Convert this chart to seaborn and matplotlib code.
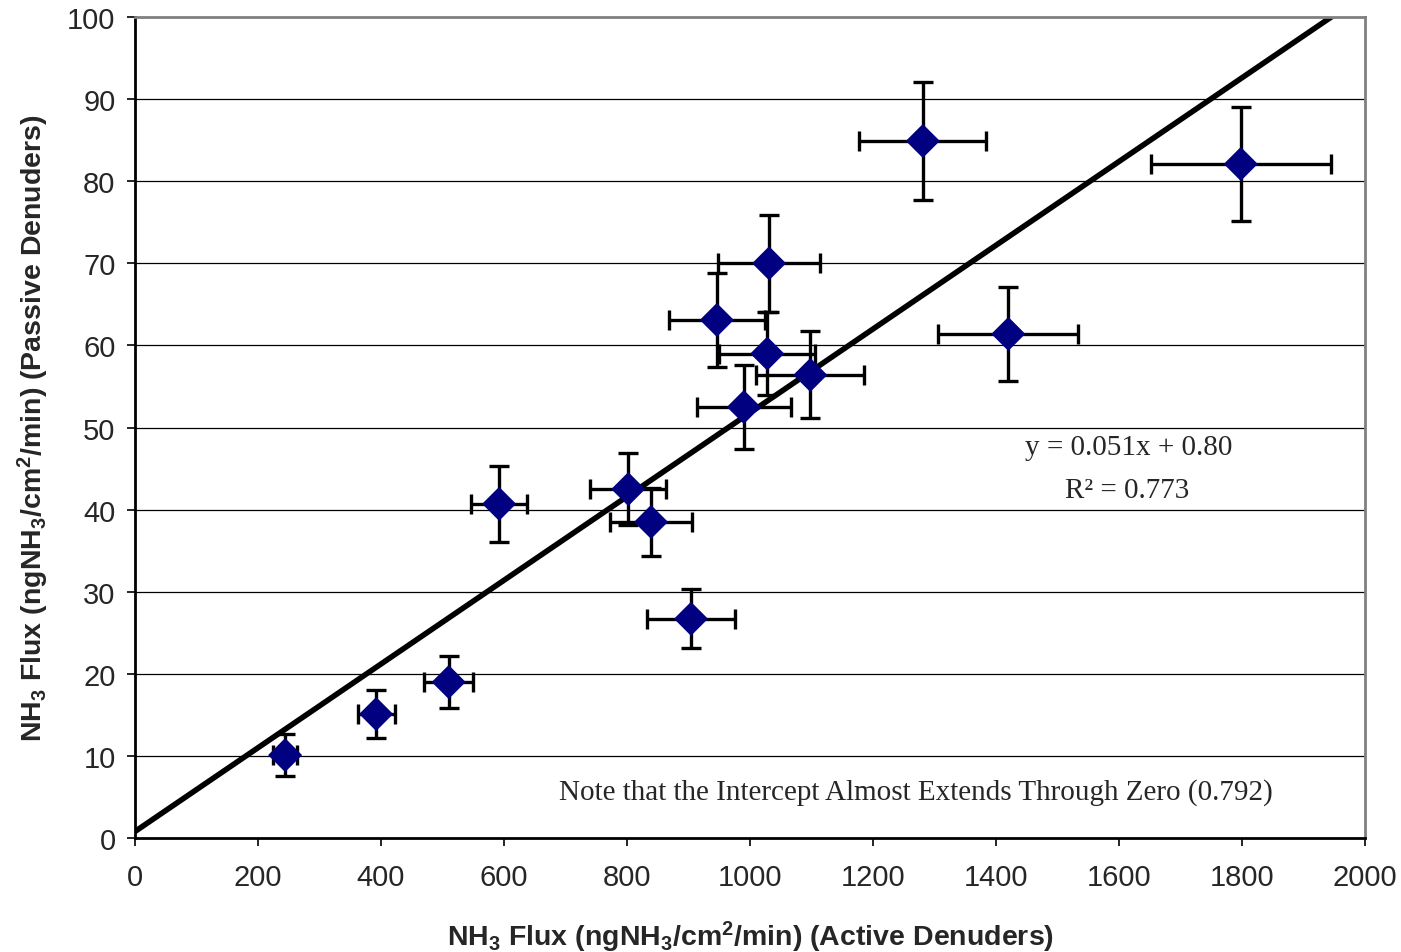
import matplotlib.pyplot as plt
import seaborn as sns
import pandas as pd
import numpy as np

# values
active_flux = [244, 392, 510, 592, 802, 839, 904, 990, 946, 1028, 1031, 1098, 1281, 1420, 1798]
passive_flux = [10.1, 15.1, 19.0, 40.7, 42.5, 38.5, 26.7, 52.5, 63.1, 59.0, 70.0, 56.4, 84.9, 61.4, 82.1]
active_err = [20, 30, 40, 46, 62, 67, 71, 77, 78, 78, 83, 88, 103, 114, 146]
passive_err = [2.6, 2.9, 3.2, 4.6, 4.4, 4.1, 3.6, 5.1, 5.7, 5.1, 5.9, 5.3, 7.2, 5.7, 7.0]

fit_slope = 0.051
fit_intercept = 0.80
fit_r2 = 0.773

x_ticks = list(range(0, 2001, 200))
y_ticks = list(range(0, 101, 10))

df = pd.DataFrame({'active': active_flux, 'passive': passive_flux,
                   'xerr': active_err, 'yerr': passive_err})

sns.set_style("white")
plt.rcParams['font.family'] = ['Liberation Sans', 'DejaVu Sans']
plt.rcParams['mathtext.fontset'] = 'custom'
plt.rcParams['mathtext.rm'] = 'Liberation Sans:bold'
plt.rcParams['mathtext.bf'] = 'Liberation Sans:bold'
plt.rcParams['mathtext.default'] = 'rm'

serif = ['Liberation Serif', 'DejaVu Serif']

fig = plt.figure(figsize=(14.01, 9.53), dpi=100)
ax = fig.add_axes([0.0964, 0.1196, 0.8779, 0.8615])

for y in y_ticks[1:-1]:
    ax.axhline(y, color='black', linewidth=0.9, zorder=0)

# trendline from the reported equation
line_x = np.array([0, 2000])
ax.plot(line_x, fit_slope * line_x + fit_intercept, color='black', linewidth=4, zorder=2)

ax.errorbar(df['active'], df['passive'], xerr=df['xerr'], yerr=df['yerr'],
            fmt='none', ecolor='black', elinewidth=2.4, capsize=7, capthick=2.4, zorder=3)
sns.scatterplot(data=df, x='active', y='passive', marker='D', s=300, color='#000080',
                edgecolor='none', ax=ax, zorder=4)

ax.set_xlim(0, 2000)
ax.set_ylim(0, 100)
ax.set_xticks(x_ticks)
ax.set_yticks(y_ticks)
ax.tick_params(axis='both', direction='out', length=6, width=1.2, labelsize=21,
               color='black', bottom=True, left=True)
ax.tick_params(axis='x', pad=12)
ax.tick_params(axis='y', pad=8)

for side in ['left', 'bottom']:
    ax.spines[side].set_color('black')
    ax.spines[side].set_linewidth(2)
for side in ['top', 'right']:
    ax.spines[side].set_color('#808080')
    ax.spines[side].set_linewidth(2)

ax.set_xlabel(r'NH$_3$ Flux (ngNH$_3$/cm$^2$/min) (Active Denuders)',
              fontsize=20.5, fontweight='bold', labelpad=20)
ax.set_ylabel(r'NH$_3$ Flux (ngNH$_3$/cm$^2$/min) (Passive Denuders)',
              fontsize=20.5, fontweight='bold', labelpad=12)

ax.text(1615, 47.6, f'y = {fit_slope:.3f}x + {fit_intercept:.2f}', ha='center', va='center',
        fontsize=21, family=serif)
ax.text(1613, 42.4, f'R\u00b2 = {fit_r2:.3f}', ha='center', va='center',
        fontsize=21, family=serif)
ax.text(1270, 5.7, 'Note that the Intercept Almost Extends Through Zero (0.792)',
        ha='center', va='center', fontsize=21, family=serif)

ax.set_facecolor('white')
fig.savefig('out.png', dpi=100)
